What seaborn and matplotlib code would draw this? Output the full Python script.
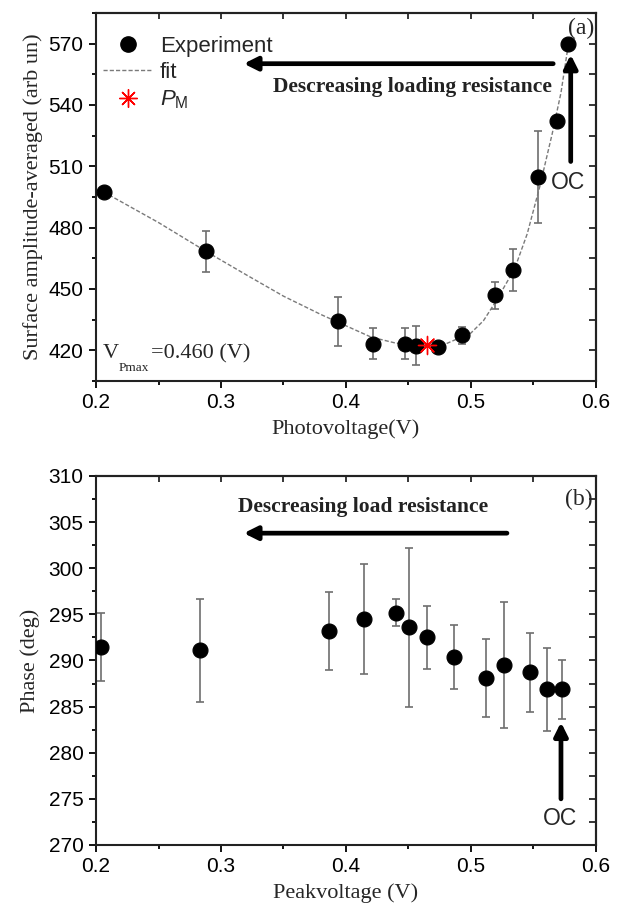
import numpy as np
import pandas as pd
import seaborn as sns
import matplotlib.pyplot as plt
from matplotlib.lines import Line2D
from matplotlib.ticker import MultipleLocator

# panel (a): surface amplitude vs photovoltage
amp_v = [0.206, 0.288, 0.394, 0.422, 0.447, 0.456, 0.474, 0.493, 0.519, 0.534, 0.554, 0.569, 0.578]
amp_y = [497.5, 468.4, 434.2, 423.3, 423.3, 422.3, 421.8, 427.4, 446.9, 459.4, 505.0, 532.4, 570.0]
amp_err = [0, 10.0, 12.0, 7.5, 7.7, 9.5, 2.5, 4.2, 6.7, 10.2, 22.5, 0, 0]

fit_v = [0.206, 0.25, 0.288, 0.32, 0.35, 0.38, 0.40, 0.42, 0.44, 0.46, 0.48, 0.50,
         0.51, 0.52, 0.535, 0.545, 0.555, 0.565, 0.572, 0.578]
fit_y = [497.5, 482.5, 468.4, 457.0, 446.5, 437.5, 432.0, 426.5, 423.5, 422.3, 423.2, 428.5,
         434.5, 444.0, 460.0, 477.0, 500.0, 526.0, 546.0, 570.0]

pm_v = [0.465]
pm_y = [422.8]

# panel (b): phase vs peak voltage
ph_v = [0.2037, 0.2832, 0.3867, 0.4147, 0.440, 0.4507, 0.4648, 0.4864, 0.5117, 0.5267, 0.5472, 0.561, 0.5725]
ph_y = [291.5, 291.1, 293.2, 294.5, 295.2, 293.6, 292.5, 290.4, 288.1, 289.5, 288.7, 286.9, 286.9]
ph_err = [3.7, 5.6, 4.2, 6.0, 1.5, 8.6, 3.4, 3.5, 4.2, 6.8, 4.3, 4.5, 3.2]

sns.set_theme(style='ticks')
plt.rcParams['font.family'] = ['Liberation Sans', 'DejaVu Sans']
plt.rcParams['mathtext.fontset'] = 'custom'
plt.rcParams['mathtext.rm'] = 'Liberation Sans'
plt.rcParams['mathtext.it'] = 'Liberation Sans:italic'

SERIF = ['Liberation Serif', 'DejaVu Serif']
ERRC = '#6e6e6e'
ARROW = dict(arrowstyle='-|>', lw=3.4, color='black', mutation_scale=20)

fig = plt.figure(figsize=(6.21, 9.08), dpi=100)
ax1 = fig.add_axes([0.1546, 0.5804, 0.8051, 0.4053])
ax2 = fig.add_axes([0.1546, 0.0694, 0.8051, 0.4064])


def style_axes(ax, ymajor, yminor):
    ax.set_xlim(0.2, 0.6)
    ax.xaxis.set_major_locator(MultipleLocator(0.1))
    ax.xaxis.set_minor_locator(MultipleLocator(0.05))
    ax.yaxis.set_major_locator(MultipleLocator(ymajor))
    ax.yaxis.set_minor_locator(MultipleLocator(yminor))
    ax.tick_params(which='both', direction='out', width=1.3, colors='black', labelsize=15)
    ax.tick_params(which='major', length=5, pad=4)
    ax.tick_params(which='minor', length=3)
    for s in ax.spines.values():
        s.set_linewidth(1.5)
        s.set_color('#222222')
    top = ax.secondary_xaxis('top')
    top.xaxis.set_major_locator(MultipleLocator(0.05))
    top.tick_params(direction='in', length=4, width=1.3, labeltop=False)
    right = ax.secondary_yaxis('right')
    right.yaxis.set_major_locator(MultipleLocator(yminor))
    right.tick_params(direction='in', length=5, width=1.3, labelright=False)
    for sec in (top, right):
        for s in sec.spines.values():
            s.set_linewidth(1.5)


# ---- panel (a)
ax1.errorbar(amp_v, amp_y, yerr=amp_err, fmt='none', ecolor=ERRC, elinewidth=1.2,
             capsize=3, capthick=1.2, zorder=2)
sns.lineplot(x=fit_v, y=fit_y, ax=ax1, color='#7a7a7a', lw=1.0, linestyle=(0, (3, 1.5)),
             sort=False, estimator=None, zorder=3)
sns.scatterplot(x=amp_v, y=amp_y, ax=ax1, color='black', s=115, edgecolor='black', zorder=4)
ax1.scatter(pm_v, pm_y, marker=(8, 2, 0), s=170, color='red', linewidths=1.0, zorder=5)

ax1.set_ylim(405, 585)
style_axes(ax1, 30, 15)
ax1.set_xlabel('Photovoltage(V)', family=SERIF, fontsize=16, labelpad=5)
ax1.set_ylabel('Surface amplitude-averaged (arb un)', family=SERIF, fontsize=16, labelpad=4)

handles = [
    Line2D([], [], marker='o', color='black', ls='none', markersize=11),
    Line2D([], [], color='#7a7a7a', lw=1.0, ls=(0, (3, 1.5))),
    Line2D([], [], marker=(8, 2, 0), color='red', ls='none', markersize=13, mew=1.0),
]
leg = ax1.legend(handles, ['Experiment', 'fit', r'$P_{\mathrm{M}}$'], loc='upper left',
                 frameon=False, fontsize=16, handlelength=2.2, handletextpad=0.35,
                 labelspacing=0.25, borderaxespad=0.2, bbox_to_anchor=(-0.012, 0.975))

ax1.annotate('', xy=(0.316, 560.2), xytext=(0.568, 560.2), arrowprops=ARROW)
ax1.text(0.4535, 549.0, 'Descreasing loading resistance', family=SERIF, fontsize=15.5,
         fontweight='bold', ha='center', va='center', color='#222222')
ax1.annotate('', xy=(0.5798, 566), xytext=(0.5798, 511), arrowprops=ARROW)
ax1.text(0.5776, 502.2, 'OC', fontsize=16.5, ha='center', va='center')
ax1.text(0.5885, 577.5, '(a)', family=SERIF, fontsize=17, ha='center', va='center')

ax1.text(0.014, 0.075, 'V', transform=ax1.transAxes, family=SERIF, fontsize=16, va='center')
ax1.text(0.046, 0.035, 'Pmax', transform=ax1.transAxes, family=SERIF, fontsize=9.5, va='center')
ax1.text(0.110, 0.075, '=0.460 (V)', transform=ax1.transAxes, family=SERIF, fontsize=16, va='center')

# ---- panel (b)
ax2.errorbar(ph_v, ph_y, yerr=ph_err, fmt='none', ecolor=ERRC, elinewidth=1.2,
             capsize=3, capthick=1.2, zorder=2)
sns.scatterplot(x=ph_v, y=ph_y, ax=ax2, color='black', s=115, edgecolor='black', zorder=4)
ax2.set_ylim(270, 310)
style_axes(ax2, 5, 2.5)
ax2.set_xlabel('Peakvoltage (V)', family=SERIF, fontsize=16, labelpad=5)
ax2.set_ylabel('Phase (deg)', family=SERIF, fontsize=16, labelpad=6)

ax2.annotate('', xy=(0.316, 303.8), xytext=(0.531, 303.8), arrowprops=ARROW)
ax2.text(0.414, 306.6, 'Descreasing load resistance', family=SERIF, fontsize=15.5,
         fontweight='bold', ha='center', va='center', color='#222222')
ax2.annotate('', xy=(0.572, 283.6), xytext=(0.572, 274.7), arrowprops=ARROW)
ax2.text(0.571, 272.9, 'OC', fontsize=16.5, ha='center', va='center')
ax2.text(0.5865, 307.5, '(b)', family=SERIF, fontsize=17, ha='center', va='center')

fig.savefig('out.png', dpi=100)
